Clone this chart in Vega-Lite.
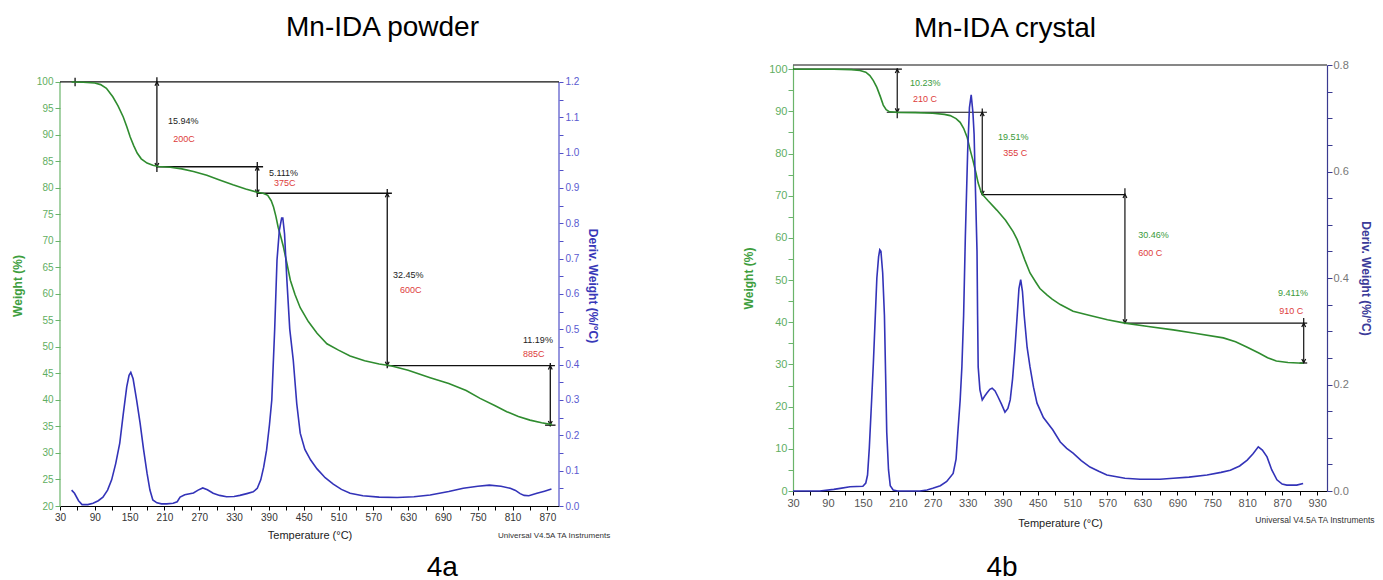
{
  "$schema": "https://vega.github.io/schema/vega-lite/v6.json",
  "background": "white",
  "padding": {"left": 11, "top": 14, "right": 0, "bottom": 0},
  "columns": 2,
  "align": "each",
  "bounds": "full",
  "spacing": 130,
  "config": {
    "font": "Liberation Sans",
    "view": {"stroke": null},
    "axis": {"grid": false, "labelFont": "Liberation Sans", "titleFont": "Liberation Sans", "domainWidth": 1.2, "tickWidth": 1, "labelOverlap": false, "labelFlush": false}
  },
  "datasets": {
    "powder_tga": [
      {"T":50,"W":100},{"T":70,"W":99.95},{"T":90,"W":99.8},{"T":100,"W":99.5},{"T":110,"W":98.8},{"T":121,"W":97.2},{"T":130,"W":95.5},{"T":139,"W":93.4},{"T":145,"W":91.6},{"T":151,"W":89.6},{"T":157,"W":88},{"T":163,"W":86.6},{"T":170,"W":85.5},{"T":180,"W":84.7},{"T":190,"W":84.3},{"T":200,"W":84.05},{"T":220,"W":83.9},{"T":240,"W":83.6},{"T":260,"W":83.1},{"T":283,"W":82.4},{"T":305,"W":81.5},{"T":328,"W":80.6},{"T":350,"W":79.8},{"T":370,"W":79.2},{"T":380,"W":79.0},{"T":388,"W":78.6},{"T":394,"W":77.6},{"T":398,"W":76.4},{"T":402,"W":74.7},{"T":406,"W":72.6},{"T":411,"W":70.6},{"T":415,"W":68.9},{"T":421,"W":65.8},{"T":427,"W":62.6},{"T":435,"W":59.9},{"T":444,"W":57.4},{"T":458,"W":54.8},{"T":473,"W":52.6},{"T":490,"W":50.6},{"T":510,"W":49.4},{"T":530,"W":48.3},{"T":555,"W":47.4},{"T":580,"W":46.8},{"T":600,"W":46.45},{"T":630,"W":45.6},{"T":668,"W":44.2},{"T":700,"W":43.1},{"T":730,"W":41.8},{"T":754,"W":40.3},{"T":780,"W":38.9},{"T":800,"W":37.8},{"T":820,"W":36.9},{"T":840,"W":36.2},{"T":860,"W":35.7},{"T":878,"W":35.35}
    ],
    "powder_dtg": [
      {"T":50,"D":0.045},{"T":55,"D":0.036},{"T":62,"D":0.015},{"T":68,"D":0.004},{"T":78,"D":0.004},{"T":87,"D":0.008},{"T":96,"D":0.015},{"T":104,"D":0.025},{"T":112,"D":0.045},{"T":119,"D":0.074},{"T":126,"D":0.12},{"T":133,"D":0.178},{"T":139,"D":0.26},{"T":145,"D":0.337},{"T":149,"D":0.37},{"T":152,"D":0.378},{"T":156,"D":0.36},{"T":162,"D":0.3},{"T":168,"D":0.235},{"T":174,"D":0.16},{"T":180,"D":0.093},{"T":185,"D":0.045},{"T":190,"D":0.017},{"T":197,"D":0.009},{"T":205,"D":0.006},{"T":214,"D":0.006},{"T":225,"D":0.008},{"T":232,"D":0.012},{"T":237,"D":0.025},{"T":245,"D":0.032},{"T":260,"D":0.037},{"T":268,"D":0.045},{"T":276,"D":0.051},{"T":284,"D":0.046},{"T":294,"D":0.036},{"T":305,"D":0.03},{"T":317,"D":0.026},{"T":330,"D":0.027},{"T":340,"D":0.03},{"T":352,"D":0.035},{"T":363,"D":0.04},{"T":370,"D":0.05},{"T":376,"D":0.074},{"T":381,"D":0.11},{"T":386,"D":0.158},{"T":391,"D":0.23},{"T":395,"D":0.3},{"T":400,"D":0.5},{"T":404,"D":0.696},{"T":408,"D":0.78},{"T":412,"D":0.815},{"T":414,"D":0.815},{"T":417,"D":0.77},{"T":421,"D":0.64},{"T":426,"D":0.5},{"T":432,"D":0.413},{"T":438,"D":0.29},{"T":444,"D":0.206},{"T":452,"D":0.16},{"T":462,"D":0.13},{"T":473,"D":0.105},{"T":487,"D":0.08},{"T":501,"D":0.062},{"T":515,"D":0.047},{"T":530,"D":0.036},{"T":552,"D":0.029},{"T":580,"D":0.025},{"T":611,"D":0.024},{"T":640,"D":0.026},{"T":668,"D":0.031},{"T":700,"D":0.041},{"T":725,"D":0.05},{"T":750,"D":0.056},{"T":770,"D":0.059},{"T":790,"D":0.056},{"T":806,"D":0.05},{"T":815,"D":0.044},{"T":823,"D":0.035},{"T":830,"D":0.03},{"T":838,"D":0.029},{"T":852,"D":0.036},{"T":865,"D":0.042},{"T":877,"D":0.048}
    ],
    "powder_frame": [
      {"T":30,"W":20,"W2":100,"side":"left"},
      {"T":890,"W":20,"W2":100,"side":"right"}
    ],
    "powder_seg": [
      {"T":30,"T2":890,"W":100,"W2":100},
      {"T":56,"T2":56,"W":99.2,"W2":100.8},
      {"T":197,"T2":197,"W":83.0,"W2":100.9},
      {"T":197,"T2":380,"W":84.0,"W2":84.0},
      {"T":370,"T2":370,"W":78.3,"W2":84.9},
      {"T":370,"T2":602,"W":79.0,"W2":79.0},
      {"T":594,"T2":594,"W":46.0,"W2":79.8},
      {"T":594,"T2":883,"W":46.5,"W2":46.5},
      {"T":875,"T2":875,"W":35.0,"W2":47.0},
      {"T":866,"T2":884,"W":35.25,"W2":35.25}
    ],
    "powder_arrow": [
      {"T":197,"W":100,"dir":"up"},{"T":370,"W":84,"dir":"up"},{"T":594,"W":79,"dir":"up"},{"T":875,"W":46.5,"dir":"up"},
      {"T":197,"W":84,"dir":"down"},{"T":370,"W":79,"dir":"down"},{"T":594,"W":46.5,"dir":"down"},{"T":875,"W":35.3,"dir":"down"}
    ],
    "powder_text": [
      {"T":216,"W":92.6,"label":"15.94%","kind":"pct"},
      {"T":225,"W":89.2,"label":"200C","kind":"temp"},
      {"T":390,"W":82.8,"label":"5.111%","kind":"pct"},
      {"T":399,"W":80.9,"label":"375C","kind":"temp"},
      {"T":604,"W":63.6,"label":"32.45%","kind":"pct"},
      {"T":616,"W":60.8,"label":"600C","kind":"temp"},
      {"T":828,"W":51.3,"label":"11.19%","kind":"pct"},
      {"T":828,"W":48.7,"label":"885C","kind":"temp"},
      {"T":785,"W":14.3,"label":"Universal V4.5A TA Instruments","kind":"note"},
      {"T":689,"W":6.8,"label":"4a","kind":"fig"}
    ],
    "crystal_tga": [
      {"T":30,"W":100},{"T":100,"W":100},{"T":130,"W":99.9},{"T":145,"W":99.7},{"T":155,"W":99.3},{"T":162,"W":98.5},{"T":168,"W":97.3},{"T":174,"W":95.7},{"T":180,"W":93.5},{"T":185,"W":91.5},{"T":190,"W":90.4},{"T":196,"W":89.9},{"T":210,"W":89.77},{"T":240,"W":89.7},{"T":270,"W":89.55},{"T":290,"W":89.3},{"T":300,"W":89.0},{"T":310,"W":88.3},{"T":317,"W":87.4},{"T":323,"W":86},{"T":329,"W":83.9},{"T":334,"W":81},{"T":339,"W":78.4},{"T":344,"W":75.5},{"T":348,"W":73},{"T":352,"W":71.3},{"T":356,"W":70.2},{"T":365,"W":68.8},{"T":380,"W":66.6},{"T":395,"W":64.2},{"T":408,"W":61.5},{"T":415,"W":59.6},{"T":420,"W":57.8},{"T":428,"W":54.8},{"T":437,"W":51.7},{"T":447,"W":49.5},{"T":454,"W":48},{"T":466,"W":46.5},{"T":475,"W":45.5},{"T":489,"W":44.2},{"T":511,"W":42.6},{"T":540,"W":41.6},{"T":570,"W":40.6},{"T":600,"W":39.8},{"T":640,"W":39},{"T":683,"W":38.2},{"T":720,"W":37.4},{"T":769,"W":36.3},{"T":790,"W":35.4},{"T":810,"W":34.1},{"T":830,"W":32.7},{"T":845,"W":31.6},{"T":860,"W":30.8},{"T":880,"W":30.45},{"T":906,"W":30.3}
    ],
    "crystal_dtg": [
      {"T":30,"D":0},{"T":76,"D":0},{"T":100,"D":0.003},{"T":111,"D":0.005},{"T":128,"D":0.008},{"T":150,"D":0.009},{"T":155,"D":0.015},{"T":158,"D":0.03},{"T":161,"D":0.08},{"T":165,"D":0.17},{"T":168,"D":0.24},{"T":171,"D":0.32},{"T":174,"D":0.4},{"T":177,"D":0.44},{"T":179,"D":0.453},{"T":181,"D":0.45},{"T":184,"D":0.41},{"T":187,"D":0.33},{"T":189,"D":0.22},{"T":191,"D":0.11},{"T":194,"D":0.04},{"T":197,"D":0.01},{"T":202,"D":0.002},{"T":210,"D":0},{"T":248,"D":0},{"T":260,"D":0.002},{"T":270,"D":0.005},{"T":283,"D":0.01},{"T":294,"D":0.018},{"T":305,"D":0.033},{"T":310,"D":0.06},{"T":313,"D":0.109},{"T":317,"D":0.17},{"T":320,"D":0.233},{"T":323,"D":0.33},{"T":326,"D":0.48},{"T":330,"D":0.64},{"T":333,"D":0.72},{"T":336,"D":0.744},{"T":339,"D":0.71},{"T":341,"D":0.67},{"T":343,"D":0.58},{"T":346,"D":0.45},{"T":347,"D":0.33},{"T":348,"D":0.233},{"T":351,"D":0.19},{"T":355,"D":0.171},{"T":359,"D":0.178},{"T":363,"D":0.184},{"T":368,"D":0.191},{"T":372,"D":0.193},{"T":377,"D":0.188},{"T":382,"D":0.177},{"T":388,"D":0.163},{"T":394,"D":0.148},{"T":399,"D":0.155},{"T":403,"D":0.171},{"T":407,"D":0.21},{"T":411,"D":0.265},{"T":415,"D":0.33},{"T":418,"D":0.38},{"T":421,"D":0.397},{"T":424,"D":0.375},{"T":427,"D":0.33},{"T":432,"D":0.27},{"T":437,"D":0.233},{"T":443,"D":0.195},{"T":449,"D":0.165},{"T":460,"D":0.138},{"T":476,"D":0.115},{"T":489,"D":0.092},{"T":500,"D":0.08},{"T":511,"D":0.071},{"T":525,"D":0.057},{"T":540,"D":0.045},{"T":555,"D":0.037},{"T":569,"D":0.03},{"T":600,"D":0.024},{"T":626,"D":0.022},{"T":660,"D":0.022},{"T":683,"D":0.024},{"T":710,"D":0.026},{"T":741,"D":0.03},{"T":765,"D":0.035},{"T":781,"D":0.039},{"T":797,"D":0.047},{"T":810,"D":0.058},{"T":820,"D":0.07},{"T":829,"D":0.083},{"T":836,"D":0.077},{"T":844,"D":0.064},{"T":852,"D":0.04},{"T":861,"D":0.021},{"T":870,"D":0.013},{"T":878,"D":0.011},{"T":895,"D":0.011},{"T":906,"D":0.014}
    ],
    "crystal_seg": [
      {"T":30,"T2":947,"W":101,"W2":101},
      {"T":30,"T2":217,"W":100,"W2":100},
      {"T":209,"T2":209,"W":88.4,"W2":100.2},
      {"T":191,"T2":363,"W":89.8,"W2":89.8},
      {"T":355,"T2":355,"W":70.1,"W2":90.7},
      {"T":355,"T2":600,"W":70.26,"W2":70.26},
      {"T":600,"T2":600,"W":39.6,"W2":71.8},
      {"T":600,"T2":913,"W":39.8,"W2":39.8},
      {"T":907,"T2":907,"W":30.3,"W2":41.0},
      {"T":900,"T2":913,"W":30.35,"W2":30.35}
    ],
    "crystal_arrow": [
      {"T":209,"W":100,"dir":"up"},{"T":355,"W":89.8,"dir":"up"},{"T":600,"W":70.4,"dir":"up"},{"T":907,"W":39.8,"dir":"up"},
      {"T":209,"W":89.8,"dir":"down"},{"T":355,"W":70.26,"dir":"down"},{"T":600,"W":39.8,"dir":"down"},{"T":907,"W":30.4,"dir":"down"}
    ],
    "crystal_text": [
      {"T":231,"W":96.7,"label":"10.23%","kind":"pct"},
      {"T":236,"W":92.9,"label":"210 C","kind":"temp"},
      {"T":382,"W":83.9,"label":"19.51%","kind":"pct"},
      {"T":391,"W":80.1,"label":"355 C","kind":"temp"},
      {"T":623,"W":60.7,"label":"30.46%","kind":"pct"},
      {"T":623,"W":56.4,"label":"600 C","kind":"temp"},
      {"T":863,"W":46.9,"label":"9.411%","kind":"pct"},
      {"T":865,"W":42.7,"label":"910 C","kind":"temp"},
      {"T":824,"W":-6.9,"label":"Universal V4.5A TA Instruments","kind":"note"},
      {"T":389,"W":-20.1,"label":"4b","kind":"fig"}
    ]
  },
  "concat": [
    {
      "width": 499,
      "height": 441,
      "title": {"text": "Mn-IDA powder", "fontSize": 28, "fontWeight": "normal", "color": "black", "font": "Liberation Sans", "anchor": "middle", "frame": "group", "offset": 23, "dx": 73},
      "encoding": {
        "x": {"field": "T", "type": "quantitative", "scale": {"domain": [30, 890], "nice": false, "zero": false},
          "axis": {"values": [30,60,90,120,150,180,210,240,270,300,330,360,390,420,450,480,510,540,570,600,630,660,690,720,750,780,810,840,870],
            "labelExpr": "(datum.value - 30) % 60 == 0 ? datum.label : ''",
            "title": "Temperature (°C)", "titleFontSize": 11, "titleFontWeight": "normal", "titleColor": "#222", "titlePadding": 7,
            "labelColor": "#333", "labelFontSize": 10, "domainColor": "black", "tickColor": "black", "tickSize": 4, "labelPadding": 2}}
      },
      "layer": [
        {
          "encoding": {
            "y": {"field": "W", "type": "quantitative", "scale": {"domain": [20, 103.2], "nice": false, "zero": false},
              "axis": {"orient": "left", "domain": false, "values": [20,25,30,35,40,45,50,55,60,65,70,75,80,85,90,95,100],
                "title": "Weight (%)", "titleFontSize": 12, "titleFontWeight": "bold", "titleColor": "#3e9e3e", "titlePadding": 12,
                "labelColor": "#5fae5f", "labelFontSize": 10, "tickColor": "#6ab46a", "tickSize": 5, "labelPadding": 2}}
          },
          "layer": [
            {"data": {"name": "powder_frame"}, "transform": [{"filter": "datum.side == 'left'"}], "mark": {"type": "rule", "color": "#6ab46a", "strokeWidth": 1.2}, "encoding": {"y2": {"field": "W2"}}},
            {"data": {"name": "powder_frame"}, "transform": [{"filter": "datum.side == 'right'"}], "mark": {"type": "rule", "color": "#5050c8", "strokeWidth": 1.2}, "encoding": {"y2": {"field": "W2"}}},
            {"data": {"name": "powder_seg"}, "mark": {"type": "rule", "color": "#111", "strokeWidth": 1.3}, "encoding": {"x2": {"field": "T2"}, "y2": {"field": "W2"}}},
            {"data": {"name": "powder_arrow"}, "transform": [{"filter": "datum.dir == 'up'"}], "mark": {"type": "point", "shape": "M -0.5 1 L 0 0 L 0.5 1", "filled": false, "stroke": "#111", "strokeWidth": 1.2, "size": 60, "opacity": 1}},
            {"data": {"name": "powder_arrow"}, "transform": [{"filter": "datum.dir == 'down'"}], "mark": {"type": "point", "shape": "M -0.5 -1 L 0 0 L 0.5 -1", "filled": false, "stroke": "#111", "strokeWidth": 1.2, "size": 60, "opacity": 1}},
            {"data": {"name": "powder_tga"}, "mark": {"type": "line", "color": "#2f8c2f", "strokeWidth": 1.6}},
            {"data": {"name": "powder_text"}, "transform": [{"filter": "datum.kind == 'pct'"}], "mark": {"type": "text", "align": "left", "baseline": "middle", "fontSize": 9, "color": "#222"}, "encoding": {"text": {"field": "label"}}},
            {"data": {"name": "powder_text"}, "transform": [{"filter": "datum.kind == 'temp'"}], "mark": {"type": "text", "align": "left", "baseline": "middle", "fontSize": 9, "color": "#dd3b3b"}, "encoding": {"text": {"field": "label"}}},
            {"data": {"name": "powder_text"}, "transform": [{"filter": "datum.kind == 'note'"}], "mark": {"type": "text", "align": "left", "baseline": "middle", "fontSize": 8, "color": "#333"}, "encoding": {"text": {"field": "label"}}},
            {"data": {"name": "powder_text"}, "transform": [{"filter": "datum.kind == 'fig'"}], "mark": {"type": "text", "align": "center", "baseline": "alphabetic", "fontSize": 28, "color": "black"}, "encoding": {"text": {"field": "label"}}}
          ]
        },
        {
          "data": {"name": "powder_dtg"},
          "mark": {"type": "line", "color": "#3333b8", "strokeWidth": 1.6},
          "encoding": {
            "y": {"field": "D", "type": "quantitative", "scale": {"domain": [0, 1.248], "nice": false, "zero": false},
              "axis": {"orient": "right", "domain": false, "values": [0,0.05,0.1,0.15,0.2,0.25,0.3,0.35,0.4,0.45,0.5,0.55,0.6,0.65,0.7,0.75,0.8,0.85,0.9,0.95,1.0,1.05,1.1,1.15,1.2],
                "labelExpr": "round(datum.value*100) % 10 == 0 ? format(datum.value, '.1f') : ''",
                "title": "Deriv. Weight (%/°C)", "titleFontSize": 12, "titleFontWeight": "bold", "titleColor": "#3838b8", "titlePadding": 7,
                "labelColor": "#5a5ad0", "labelFontSize": 10, "tickColor": "#5050c8", "tickSize": 4, "labelPadding": 2}}
          }
        }
      ],
      "resolve": {"scale": {"y": "independent"}}
    },
    {
      "width": 534,
      "height": 426,
      "title": {"text": "Mn-IDA crystal", "fontSize": 28, "fontWeight": "normal", "color": "black", "font": "Liberation Sans", "anchor": "middle", "frame": "group", "offset": 16, "dx": -55},
      "encoding": {
        "x": {"field": "T", "type": "quantitative", "scale": {"domain": [30, 947], "nice": false, "zero": false},
          "axis": {"values": [30,60,90,120,150,180,210,240,270,300,330,360,390,420,450,480,510,540,570,600,630,660,690,720,750,780,810,840,870,900,930],
            "labelExpr": "(datum.value - 30) % 60 == 0 ? datum.label : ''",
            "title": "Temperature (°C)", "titleFontSize": 11, "titleFontWeight": "normal", "titleColor": "#222", "titlePadding": 9,
            "labelColor": "#555", "labelFontSize": 11, "domainColor": "black", "tickColor": "black", "tickSize": 4, "labelPadding": 2}}
      },
      "layer": [
        {
          "encoding": {
            "y": {"field": "W", "type": "quantitative", "scale": {"domain": [0, 101], "nice": false, "zero": false},
              "axis": {"orient": "left", "values": [0,5,10,15,20,25,30,35,40,45,50,55,60,65,70,75,80,85,90,95,100],
                "labelExpr": "datum.value % 10 == 0 ? datum.label : ''",
                "title": "Weight (%)", "titleFontSize": 12, "titleFontWeight": "bold", "titleColor": "#3e9e3e", "titlePadding": 13,
                "labelColor": "#5fae5f", "labelFontSize": 11, "domainColor": "#6ab46a", "tickColor": "#6ab46a", "tickSize": 5, "labelPadding": 1}}
          },
          "layer": [
            {"data": {"name": "crystal_seg"}, "mark": {"type": "rule", "color": "#111", "strokeWidth": 1.2}, "encoding": {"x2": {"field": "T2"}, "y2": {"field": "W2"}}},
            {"data": {"name": "crystal_arrow"}, "transform": [{"filter": "datum.dir == 'up'"}], "mark": {"type": "point", "shape": "M -0.5 1 L 0 0 L 0.5 1", "filled": false, "stroke": "#111", "strokeWidth": 1.2, "size": 60, "opacity": 1}},
            {"data": {"name": "crystal_arrow"}, "transform": [{"filter": "datum.dir == 'down'"}], "mark": {"type": "point", "shape": "M -0.5 -1 L 0 0 L 0.5 -1", "filled": false, "stroke": "#111", "strokeWidth": 1.2, "size": 60, "opacity": 1}},
            {"data": {"name": "crystal_tga"}, "mark": {"type": "line", "color": "#2f8c2f", "strokeWidth": 1.6}},
            {"data": {"name": "crystal_text"}, "transform": [{"filter": "datum.kind == 'pct'"}], "mark": {"type": "text", "align": "left", "baseline": "middle", "fontSize": 9, "color": "#3a9a3a"}, "encoding": {"text": {"field": "label"}}},
            {"data": {"name": "crystal_text"}, "transform": [{"filter": "datum.kind == 'temp'"}], "mark": {"type": "text", "align": "left", "baseline": "middle", "fontSize": 9, "color": "#dd3b3b"}, "encoding": {"text": {"field": "label"}}},
            {"data": {"name": "crystal_text"}, "transform": [{"filter": "datum.kind == 'note'"}], "mark": {"type": "text", "align": "left", "baseline": "middle", "fontSize": 8.5, "color": "#333"}, "encoding": {"text": {"field": "label"}}},
            {"data": {"name": "crystal_text"}, "transform": [{"filter": "datum.kind == 'fig'"}], "mark": {"type": "text", "align": "center", "baseline": "alphabetic", "fontSize": 28, "color": "black"}, "encoding": {"text": {"field": "label"}}}
          ]
        },
        {
          "data": {"name": "crystal_dtg"},
          "mark": {"type": "line", "color": "#3333b8", "strokeWidth": 1.6},
          "encoding": {
            "y": {"field": "D", "type": "quantitative", "scale": {"domain": [0, 0.8], "nice": false, "zero": false},
              "axis": {"orient": "right", "values": [0,0.05,0.1,0.15,0.2,0.25,0.3,0.35,0.4,0.45,0.5,0.55,0.6,0.65,0.7,0.75,0.8],
                "labelExpr": "round(datum.value*100) % 20 == 0 ? format(datum.value, '.1f') : ''",
                "title": "Deriv. Weight (%/°C)", "titleFontSize": 12, "titleFontWeight": "bold", "titleColor": "#3b3b99", "titlePadding": 10,
                "labelColor": "#777", "labelFontSize": 11, "domainColor": "#3a3a90", "tickColor": "#3a3a90", "tickSize": 5, "labelPadding": 1}}
          }
        }
      ],
      "resolve": {"scale": {"y": "independent"}}
    }
  ]
}
